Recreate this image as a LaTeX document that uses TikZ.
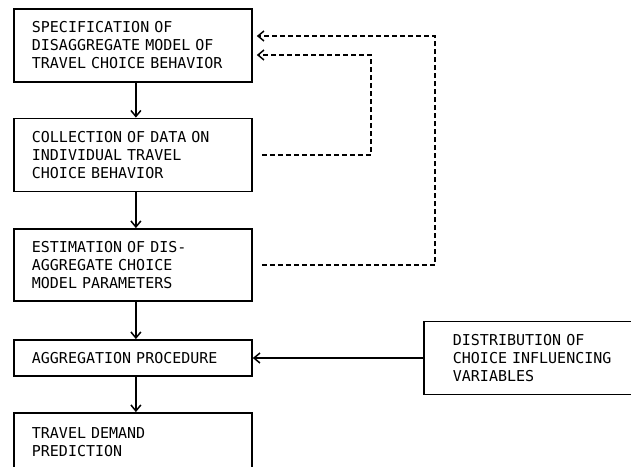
\documentclass[tikz,border=0pt]{standalone}
\usepackage{fontspec}
\setmonofont{DejaVu Sans Mono}
\usepackage{tikz}
\usetikzlibrary{arrows.meta}

\begin{document}
\begin{tikzpicture}[x=1pt, y=-1pt,
  box/.style={draw, line width=1.8pt, anchor=west, align=left, text width=202pt,
    inner xsep=18pt, minimum height=73pt,
    font=\ttfamily\fontsize{15}{18}\selectfont},
  flow/.style={line width=1.7pt, -{Straight Barb[length=6pt,width=10pt,line width=1.5pt]}},
  feedback/.style={line width=1.7pt, dash pattern=on 5pt off 3pt,
    -{Straight Barb[length=6pt,width=10pt,line width=1.5pt]}, shorten >=4pt}]
\useasboundingbox (0,0) rectangle (631,466);
%\draw[very thin,color=gray] (0,0) grid[step=50pt] (631,466);
\node[box] (spec) at (13,45.5) {SPECIFICATION OF\\DISAGGREGATE MODEL OF\\TRAVEL CHOICE BEHAVIOR};
\node[box] (coll) at (13,155) {COLLECTION OF DATA ON\\INDIVIDUAL TRAVEL\\CHOICE BEHAVIOR};
\node[box, minimum height=72pt] (est) at (13,265) {ESTIMATION OF DIS-\\AGGREGATE CHOICE\\MODEL PARAMETERS};
\node[box, minimum height=36pt] (agg) at (13,358) {AGGREGATION PROCEDURE};
\node[box, minimum height=59pt] (pred) at (13,442.5) {TRAVEL DEMAND\\PREDICTION};
\node[box, inner xsep=29pt, text width=220pt] (dist) at (423,358) {DISTRIBUTION OF\\CHOICE INFLUENCING\\VARIABLES};
\draw[flow] ([xshift=3pt]spec.south) -- ([xshift=3pt]coll.north);
\draw[flow] ([xshift=3pt]coll.south) -- ([xshift=3pt]est.north);
\draw[flow] ([xshift=3pt]est.south) -- ([xshift=3pt]agg.north);
\draw[flow] ([xshift=3pt]agg.south) -- ([xshift=3pt]pred.north);
\draw[flow] (dist.west) -- (agg.east);
\draw[feedback] ([xshift=9pt]coll.east) -- ++(109,0) |- ([yshift=-9.5pt]spec.east);
\draw[feedback] ([xshift=9pt]est.east) -- ++(173,0) |- ([yshift=9.5pt]spec.east);
\end{tikzpicture}
\end{document}
